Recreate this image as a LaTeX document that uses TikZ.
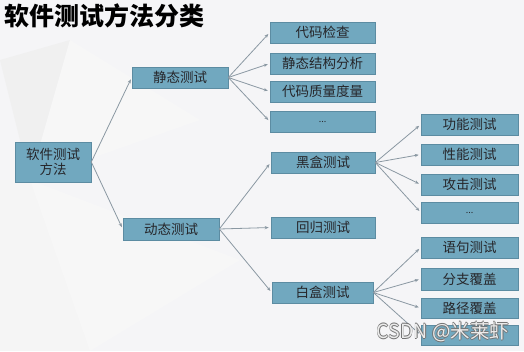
\documentclass[tikz,border=0pt]{standalone}
\usepackage{fontspec}
\newfontfamily\cjk{Noto Sans CJK SC}
\setmainfont{Liberation Sans}
\usetikzlibrary{arrows.meta}
\definecolor{boxfill}{RGB}{113,168,191}
\definecolor{boxline}{RGB}{92,140,162}
\definecolor{linkc}{RGB}{138,152,162}
\definecolor{bgc}{RGB}{245,245,247}
\definecolor{txtc}{RGB}{38,38,42}
\begin{document}
\begin{tikzpicture}[x=1pt,y=-1pt,
  boxnode/.style={draw=boxline,line width=0.6pt,fill=boxfill,text=txtc,inner sep=0pt,font=\cjk\fontsize{13.5}{15.5}\selectfont,align=center},
  link/.style={draw=linkc,line width=0.8pt,-{Stealth[length=4pt,width=3.2pt]},shorten >=2pt},
  wmstyle/.style={font=\cjk\fontsize{19.5}{21}\selectfont,inner sep=0pt}]
\useasboundingbox (0,0) rectangle (524,351);
\fill[bgc] (0,0) rectangle (524,351);
% faint low-poly background
\fill[black!6] (0,60) -- (70,40) -- (30,180) -- cycle;
\fill[black!4] (0,180) -- (30,180) -- (90,351) -- (0,351) -- cycle;
\fill[black!3] (70,40) -- (200,120) -- (30,180) -- cycle;
\fill[black!3] (30,180) -- (240,260) -- (90,351) -- cycle;
% title
\node[anchor=west,text=black,font=\cjk\bfseries\fontsize{25}{27}\selectfont,inner sep=0pt] (title) at (4,16) {软件测试方法分类};
% boxes: macro by corners
\newcommand\pbox[6]{\node[boxnode,minimum width=#4-#2,minimum height=#5-#3] (#1) at ({(#2+#4)/2},{(#3+#5)/2}) {#6};}
\pbox{root}{15}{142}{91}{182}{软件测试\\方法}
\pbox{s}{132}{67}{228}{88}{静态测试}
\pbox{d}{123}{218}{219}{240}{动态测试}
\pbox{s1}{270}{22}{375}{43}{代码检查}
\pbox{s2}{270}{53}{375}{74}{静态结构分析}
\pbox{s3}{270}{81}{375}{102}{代码质量度量}
\pbox{s4}{270}{111}{375}{132}{\fontsize{9}{10}\selectfont ...}
\pbox{b}{271}{152}{375}{173}{黑盒测试}
\pbox{r}{271}{217}{375}{238}{回归测试}
\pbox{w}{272}{282}{373}{303}{白盒测试}
\pbox{b1}{421}{114}{518}{135}{功能测试}
\pbox{b2}{421}{144}{518}{165}{性能测试}
\pbox{b3}{421}{174}{518}{195}{攻击测试}
\pbox{b4}{421}{202}{518}{223}{\fontsize{9}{10}\selectfont ...}
\pbox{w1}{421}{237}{518}{258}{语句测试}
\pbox{w2}{421}{268}{518}{290}{分支覆盖}
\pbox{w3}{421}{298}{518}{318}{路径覆盖}
\pbox{w4}{421}{325}{518}{345}{}
% connectors
\foreach \a/\b in {root/s,root/d,s/s1,s/s2,s/s3,s/s4,d/b,d/r,d/w,b/b1,b/b2,b/b3,b/b4,w/w1,w/w2,w/w3,w/w4}
  \draw[link] (\a.east) -- (\b.west);
% watermark (outlined light text)
\foreach \dx/\dy [count=\i] in {-0.6/0,0.6/0,0/-0.6,0/0.6}
  \node[wmstyle,text=black!55] (wmo\i) at (443+\dx,332+\dy) {CSDN @米莱虾};
\node[wmstyle,text=white!92!black] (wm) at (443,332) {CSDN @米莱虾};
\end{tikzpicture}
\end{document}
